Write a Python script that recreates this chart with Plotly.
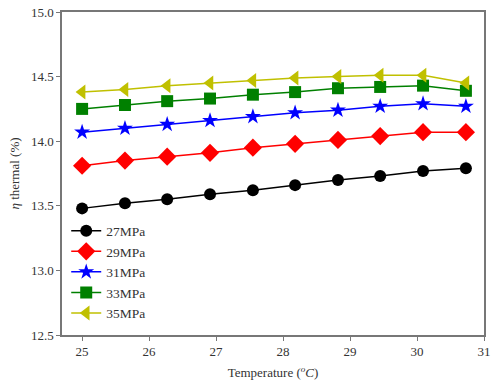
import plotly.graph_objects as go

temperature = [25.0, 25.64, 26.27, 26.91, 27.55, 28.18, 28.82, 29.45, 30.09, 30.73]
eta_27 = [13.48, 13.52, 13.55, 13.59, 13.62, 13.66, 13.70, 13.73, 13.77, 13.79]
eta_29 = [13.81, 13.85, 13.88, 13.91, 13.95, 13.98, 14.01, 14.04, 14.07, 14.07]
eta_31 = [14.07, 14.10, 14.13, 14.16, 14.19, 14.22, 14.24, 14.27, 14.29, 14.27]
eta_33 = [14.25, 14.28, 14.31, 14.33, 14.36, 14.38, 14.41, 14.42, 14.43, 14.39]
eta_35 = [14.38, 14.40, 14.43, 14.45, 14.47, 14.49, 14.50, 14.51, 14.51, 14.45]
series_names = ["27MPa", "29MPa", "31MPa", "33MPa", "35MPa"]
x_ticks = [25, 26, 27, 28, 29, 30, 31]
y_ticks = [12.5, 13.0, 13.5, 14.0, 14.5, 15.0]

series = [eta_27, eta_29, eta_31, eta_33, eta_35]
colors = ["#000000", "#ff0000", "#0000ff", "#008000", "#c0c000"]
symbols = ["circle", "diamond", "star", "square", "triangle-left"]
sizes = [12, 14, 12, 12, 13]

fig = go.Figure()
for name, ys, c, s, sz in zip(series_names, series, colors, symbols, sizes):
    fig.add_trace(go.Scatter(
        x=temperature, y=ys, name=name, mode="lines+markers",
        line=dict(color=c, width=1.5),
        marker=dict(symbol=s, size=sz, color=c, line=dict(width=0)),
    ))

font = "Liberation Serif, Times New Roman, serif"
fig.update_layout(
    width=496, height=380,
    margin=dict(l=62, r=12, t=12, b=45),
    paper_bgcolor="white", plot_bgcolor="white",
    font=dict(family=font, size=13, color="#333333"),
    showlegend=True,
    legend=dict(x=0.01, y=0.37, xanchor="left", yanchor="top",
                bgcolor="rgba(0,0,0,0)", font=dict(family=font, size=13.5, color="#333333"),
                tracegroupgap=0, itemwidth=30),
    xaxis=dict(range=[24.7, 31], tickvals=x_ticks, ticktext=[str(v) for v in x_ticks],
               automargin=False,
               showgrid=False, zeroline=False, showline=True, linecolor="#777777", linewidth=1.5,
               mirror=True, ticks="outside", ticklen=4, tickcolor="#777777",
               title=dict(text="Temperature (<i><sup>o</sup>C</i>)", font=dict(family=font, size=13, color="#333333"), standoff=10)),
    yaxis=dict(range=[12.5, 15.0], tickvals=y_ticks, ticktext=[f"{v:.1f}" for v in y_ticks],
               automargin=False,
               showgrid=False, zeroline=False, showline=True, linecolor="#777777", linewidth=1.5,
               mirror=True, ticks="outside", ticklen=4, tickcolor="#777777",
               title=dict(text="<i>η</i> thermal (%)", font=dict(family=font, size=13, color="#333333"), standoff=8)),
)

fig.write_html("out.html")
